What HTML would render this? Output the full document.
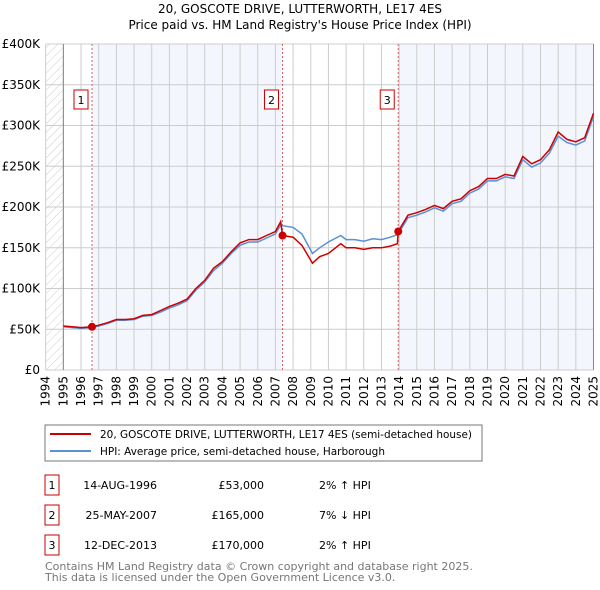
<!DOCTYPE html>
<html><head><meta charset="utf-8"><style>
body{margin:0;background:#fff;}
svg{display:block;font-family:"DejaVu Sans","Liberation Sans",sans-serif;}
</style></head><body>
<svg id="c" width="600" height="590" viewBox="0 0 600 590">
<defs>
<pattern id="hatch" patternUnits="userSpaceOnUse" width="6" height="6" patternTransform="rotate(45)">
<line x1="0" y1="0" x2="0" y2="6" stroke="#ccc" stroke-width="1"/></pattern>
</defs>
<text x="300" y="13" text-anchor="middle" font-size="12">20, GOSCOTE DRIVE, LUTTERWORTH, LE17 4ES</text>
<text x="300" y="29" text-anchor="middle" font-size="12">Price paid vs. HM Land Registry's House Price Index (HPI)</text>
<g id="plot"></g>
<rect x="45" y="425" width="437" height="36" fill="#fff" stroke="#777"/>
<line x1="50" y1="434" x2="91" y2="434" stroke="#cc0000" stroke-width="2"/>
<text x="100" y="438" font-size="10.5" textLength="372" lengthAdjust="spacingAndGlyphs">20, GOSCOTE DRIVE, LUTTERWORTH, LE17 4ES (semi-detached house)</text>
<line x1="50" y1="451" x2="91" y2="451" stroke="#5b8fd6" stroke-width="2"/>
<text x="100" y="455" font-size="10.5" textLength="285" lengthAdjust="spacingAndGlyphs">HPI: Average price, semi-detached house, Harborough</text>
<g id="tbl" font-size="11"></g>
<text x="45" y="570" font-size="11" fill="#777">Contains HM Land Registry data © Crown copyright and database right 2025.</text>
<text x="45" y="581" font-size="11" fill="#777">This data is licensed under the Open Government Licence v3.0.</text>
</svg>
<script>
const yearTicks=[1994,1995,1996,1997,1998,1999,2000,2001,2002,2003,2004,2005,2006,2007,2008,2009,2010,2011,2012,2013,2014,2015,2016,2017,2018,2019,2020,2021,2022,2023,2024,2025];
const valueTicks=[0,50,100,150,200,250,300,350,400];
const valueLabels=["£0","£50K","£100K","£150K","£200K","£250K","£300K","£350K","£400K"];
const priceT=[1995,1995.5,1996,1996.62,1997,1997.5,1998,1998.5,1999,1999.5,2000,2000.5,2001,2001.5,2002,2002.5,2003,2003.5,2004,2004.5,2005,2005.5,2006,2006.5,2007,2007.3,2007.4,2008,2008.5,2009.1,2009.5,2010,2010.7,2011,2011.5,2012,2012.5,2013,2013.5,2013.9,2013.95,2014.5,2015,2015.5,2016,2016.5,2017,2017.5,2018,2018.5,2019,2019.5,2020,2020.5,2021,2021.5,2022,2022.5,2023,2023.5,2024,2024.5,2025];
const priceV=[54,53,52,53,55,58,62,62,63,67,68,73,78,82,87,100,110,125,133,145,156,160,160,165,170,182,165,163,153,131,139,143,155,150,150,148,150,150,152,155,170,190,193,197,202,198,207,210,220,225,235,235,240,238,262,253,258,270,292,283,280,285,315];
const hpiT=[1995,1995.5,1996,1996.62,1997,1997.5,1998,1998.5,1999,1999.5,2000,2000.5,2001,2001.5,2002,2002.5,2003,2003.5,2004,2004.5,2005,2005.5,2006,2006.5,2007,2007.3,2007.4,2008,2008.5,2009.1,2009.5,2010,2010.7,2011,2011.5,2012,2012.5,2013,2013.5,2013.9,2013.95,2014.5,2015,2015.5,2016,2016.5,2017,2017.5,2018,2018.5,2019,2019.5,2020,2020.5,2021,2021.5,2022,2022.5,2023,2023.5,2024,2024.5,2025];
const hpiV=[53,52,51,52,54,57,61,61,62,66,67,71,76,80,85,98,108,122,131,143,153,157,157,162,167,178,177,175,167,143,150,157,165,160,160,158,161,160,163,166,167,187,190,194,199,195,204,207,217,222,232,232,237,235,258,249,254,266,287,279,276,281,311];
const saleT=[1996.62,2007.4,2013.95];
const saleV=[53,165,170];
const saleLabels=["1","2","3"];
const saleDates=["14-AUG-1996","25-MAY-2007","12-DEC-2013"];
const salePrices=["£53,000","£165,000","£170,000"];
const saleDiffs=["2% ↑ HPI","7% ↓ HPI","2% ↑ HPI"];

const NS="http://www.w3.org/2000/svg";
const X0=45.7,X1=593.5,Y0=370,Y1=44;
const xs=t=>X0+(t-1994)/(2025-1994)*(X1-X0);
const ys=v=>Y0-(v/400)*(Y0-Y1);
const plot=document.getElementById('plot');
function mk(tag,attrs,parent){const e=document.createElementNS(NS,tag);for(const k in attrs)e.setAttribute(k,attrs[k]);(parent||plot).appendChild(e);return e;}

let e;
e=mk('rect',{x:X0,y:Y1,width:X1-X0,height:Y0-Y1,fill:'#fff'});


e=mk('rect',{x:X0,y:Y1,width:xs(1995)-X0,height:Y0-Y1,fill:'url(#hatch)'});


e=mk('rect',{x:xs(saleT[0]),y:Y1,width:xs(saleT[1])-xs(saleT[0]),height:Y0-Y1,fill:'#f3f6fd'});


e=mk('rect',{x:xs(saleT[2]),y:Y1,width:X1-xs(saleT[2]),height:Y0-Y1,fill:'#f3f6fd'});


yearTicks.forEach(y=>{
 e=mk('line',{x1:xs(y),x2:xs(y),y1:Y1,y2:Y0,stroke:'#ccc','stroke-width':1});
 
 
 e=mk('text',{x:0,y:0,transform:`translate(${xs(y)+4},${Y0+6}) rotate(-90)`,'text-anchor':'end','font-size':12});
 e.textContent=y;
 
 
});
valueTicks.forEach((v,i)=>{
 e=mk('line',{x1:X0,x2:X1,y1:ys(v),y2:ys(v),stroke:'#ccc','stroke-width':1});
 
 
 e=mk('text',{x:40,y:ys(v)+4,'text-anchor':'end','font-size':12});
 e.textContent=valueLabels[i];
 
 
});
e=mk('line',{x1:xs(1995),x2:xs(1995),y1:Y1,y2:Y0,stroke:'#888'});


e=mk('line',{x1:X1,x2:X1,y1:Y1,y2:Y0,stroke:'#888'});


saleT.forEach((t,i)=>{
 e=mk('line',{x1:xs(t),x2:xs(t),y1:Y1,y2:Y0,stroke:'#e06060','stroke-dasharray':'2,2'});
 
 
 e=mk('rect',{x:xs(t)-18,y:90,width:14,height:19,fill:'#fff',stroke:'#cc0000'});
 
 
 e=mk('text',{x:xs(t)-11,y:104,'text-anchor':'middle','font-size':11});
 e.textContent=saleLabels[i];
 
 
});
const path=(T,V)=>T.map((t,i)=>(i?'L':'M')+xs(t).toFixed(1)+','+ys(V[i]).toFixed(1)).join('');
e=mk('path',{d:path(hpiT,hpiV),fill:'none',stroke:'#5b8fd6','stroke-width':1.5});


e=mk('path',{d:path(priceT,priceV),fill:'none',stroke:'#cc0000','stroke-width':1.5});


saleT.forEach((t,i)=>{
 e=mk('circle',{cx:xs(t),cy:ys(saleV[i]),r:4,fill:'#cc0000'});
 
 
});
const tbl=document.getElementById('tbl');
[485,515,545].forEach((cy,i)=>{
 e=mk('rect',{x:45,y:cy-10,width:14,height:20,fill:'#fff',stroke:'#cc0000'},tbl);
 
 
 e=mk('text',{x:52,y:cy+4,'text-anchor':'middle'},tbl);e.textContent=saleLabels[i];
 
 
 e=mk('text',{x:157,y:cy+4,'text-anchor':'end'},tbl);e.textContent=saleDates[i];
 
 
 e=mk('text',{x:264,y:cy+4,'text-anchor':'end'},tbl);e.textContent=salePrices[i];
 
 
 e=mk('text',{x:319,y:cy+4},tbl);e.textContent=saleDiffs[i];
 
 
});
</script>
</body></html>
